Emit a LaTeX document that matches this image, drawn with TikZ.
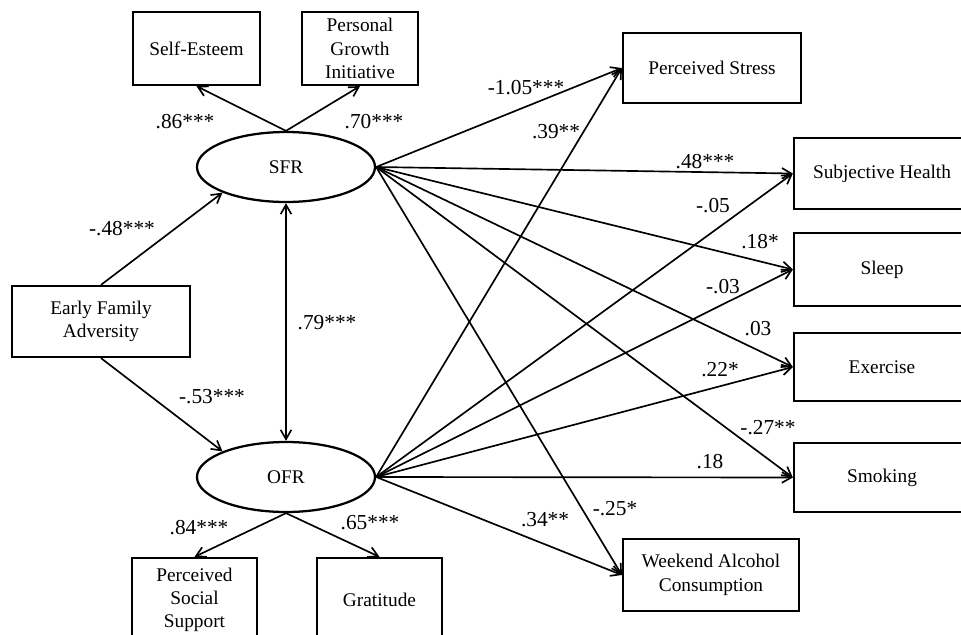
\documentclass[tikz,border=0pt]{standalone}
\usepackage{fontspec}
\setmainfont{Liberation Serif}
\usetikzlibrary{shapes.geometric,arrows.meta}
\begin{document}
\begin{tikzpicture}[x=0.75pt,y=-0.75pt,
  box/.style={draw,line width=1.7pt,inner sep=2pt,align=center,font=\fontsize{14.5}{17.5}\selectfont},
  latent/.style={draw,ellipse,line width=1.7pt,inner sep=0pt,minimum width=133.5pt,minimum height=52.5pt,font=\fontsize{14.5}{17.5}\selectfont},
  arr/.style={line width=1.25pt,-{Straight Barb[length=7pt,width=8pt]}},
  arrb/.style={line width=1.25pt,{Straight Barb[length=7pt,width=8pt]}-{Straight Barb[length=7pt,width=8pt]}},
  lab/.style={inner sep=0pt,font=\fontsize{16}{18}\selectfont}
]
\clip (0,0) rectangle (961,635);
\fill[white] (0,0) rectangle (961,635);

% latent variables
\node[latent] (sfr) at (286,167) {SFR};
\node[latent] (ofr) at (286,477) {OFR};

% indicator boxes
\node[box,minimum width=95.25pt,minimum height=54.75pt] (se) at (196.5,48.5) {Self-Esteem};
\node[box,minimum width=87pt,minimum height=54.75pt] (pgi) at (360,48.5) {Personal\\Growth\\Initiative};
\node[box,minimum width=93.75pt,minimum height=63pt] (pss) at (194.5,600) {Perceived\\Social\\Support};
\node[box,minimum width=93.75pt,minimum height=63pt] (gr) at (379.5,600) {Gratitude};

% predictor
\node[box,minimum width=133.5pt,minimum height=53.25pt] (efa) at (101,321.5) {Early Family\\Adversity};

% outcomes
\node[box,minimum width=133.5pt,minimum height=52.5pt] (ps) at (712,68) {Perceived Stress};
\node[box,minimum width=132pt,minimum height=53.25pt] (sh) at (882,173.5) {Subjective Health};
\node[box,minimum width=132pt,minimum height=54.75pt] (sl) at (882,269.5) {Sleep};
\node[box,minimum width=132pt,minimum height=51pt] (ex) at (882,367) {Exercise};
\node[box,minimum width=132pt,minimum height=51.75pt] (sm) at (882,477.5) {Smoking};
\node[box,minimum width=132pt,minimum height=54pt] (wac) at (711,575) {Weekend Alcohol\\Consumption};

% measurement arrows
\draw[arr] (sfr.north) -- (se.south);
\draw[arr] (sfr.north) -- (pgi.south);
\draw[arr] (ofr.south) -- (pss.north);
\draw[arr] (ofr.south) -- (gr.north);

% structural arrows
\draw[arr] (efa.north) -- (sfr.202);
\draw[arr] (efa.south) -- (ofr.158);
\draw[arrb] (sfr.south) -- (ofr.north);

\foreach \t in {ps,sh,sl,ex,sm,wac}{
  \draw[arr] (sfr.east) -- (\t.west);
  \draw[arr] (ofr.east) -- (\t.west);
}

% labels
\node[lab] (l1) at (185,122) {.86***};
\node[lab] (l2) at (374,122) {.70***};
\node[lab] (l3) at (122,229) {-.48***};
\node[lab] (l4) at (212,397) {-.53***};
\node[lab] (l5) at (327,323) {.79***};
\node[lab] (l6) at (199,528) {.84***};
\node[lab] (l7) at (370,523) {.65***};
\node[lab] (l8) at (526,88) {-1.05***};
\node[lab] (l9) at (556,132) {.39**};
\node[lab] (l10) at (705,162) {.48***};
\node[lab] (l11) at (713,206) {-.05};
\node[lab] (l12) at (760,242) {.18*};
\node[lab] (l13) at (723,287) {-.03};
\node[lab] (l14) at (758,329) {.03};
\node[lab] (l15) at (720,370) {.22*};
\node[lab] (l16) at (768,428) {-.27**};
\node[lab] (l17) at (710,462) {.18};
\node[lab] (l18) at (545,520) {.34**};
\node[lab] (l19) at (615,509) {-.25*};
\end{tikzpicture}
\end{document}
